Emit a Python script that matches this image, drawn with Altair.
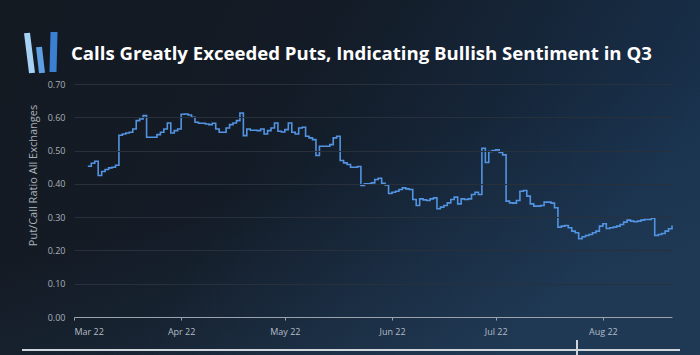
import altair as alt
import pandas as pd

# ---------------- data ----------------
start_date = "2022-03-05"
ratio = [
    0.453, 0.462, 0.468, 0.425, 0.437, 0.443, 0.448, 0.450, 0.456, 0.546,
    0.550, 0.553, 0.555, 0.565, 0.590, 0.595, 0.605, 0.540, 0.540, 0.540,
    0.548, 0.555, 0.565, 0.583, 0.553, 0.560, 0.565, 0.609, 0.610, 0.607,
    0.600, 0.585, 0.582, 0.582, 0.580, 0.578, 0.582, 0.565, 0.555, 0.555,
    0.568, 0.578, 0.583, 0.590, 0.613, 0.545, 0.565, 0.561, 0.561, 0.560,
    0.565, 0.550, 0.560, 0.568, 0.583, 0.558, 0.556, 0.563, 0.583, 0.555,
    0.550, 0.568, 0.570, 0.543, 0.538, 0.533, 0.485, 0.513, 0.513, 0.513,
    0.518, 0.538, 0.543, 0.470, 0.463, 0.458, 0.450, 0.450, 0.452, 0.395,
    0.400, 0.400, 0.403, 0.413, 0.417, 0.402, 0.397, 0.371, 0.375, 0.378,
    0.383, 0.388, 0.385, 0.383, 0.353, 0.335, 0.355, 0.352, 0.350, 0.355,
    0.358, 0.325, 0.330, 0.335, 0.343, 0.353, 0.360, 0.340, 0.355, 0.353,
    0.355, 0.368, 0.375, 0.368, 0.507, 0.464, 0.497, 0.500, 0.502, 0.494,
    0.487, 0.348, 0.343, 0.342, 0.350, 0.378, 0.380, 0.363, 0.340, 0.333,
    0.333, 0.335, 0.345, 0.345, 0.342, 0.328, 0.270, 0.273, 0.275, 0.268,
    0.258, 0.253, 0.235, 0.241, 0.245, 0.248, 0.253, 0.258, 0.273, 0.280,
    0.266, 0.268, 0.270, 0.273, 0.278, 0.285, 0.291, 0.288, 0.286, 0.288,
    0.291, 0.293, 0.293, 0.297, 0.245, 0.248, 0.251, 0.258, 0.265, 0.275,
]
month_ticks = [3, 4, 5, 6, 7, 8]
y_ticks = [0.0, 0.1, 0.2, 0.3, 0.4, 0.5, 0.6, 0.7]
title_text = "Calls Greatly Exceeded Puts, Indicating Bullish Sentiment in Q3"
y_title = "Put/Call Ratio All Exchanges"

dates = pd.date_range(start_date, periods=len(ratio), freq="D")
df = pd.DataFrame({"date": dates.strftime("%Y-%m-%dT00:00:00"), "ratio": ratio})

W, H = 598, 233
PAD = {"left": 74, "top": 84, "right": 28, "bottom": 38}
one = alt.Data(values=[{"k": 1}])

# ---------------- background ----------------
bg = alt.Chart(one).mark_rect(
    color=alt.LinearGradient(
        gradient="linear", x1=0, y1=0, x2=1, y2=0.3,
        stops=[
            alt.GradientStop(color="#141a22", offset=0),
            alt.GradientStop(color="#131b26", offset=0.45),
            alt.GradientStop(color="#18304b", offset=1),
        ],
    )
).encode(x=alt.value(-74), x2=alt.value(626), y=alt.value(-84), y2=alt.value(271))

bg2 = alt.Chart(one).mark_rect(
    color=alt.LinearGradient(
        gradient="linear", x1=0, y1=0, x2=0.6, y2=1,
        stops=[
            alt.GradientStop(color="rgba(40,70,100,0)", offset=0.55),
            alt.GradientStop(color="rgba(45,75,105,0.35)", offset=1),
        ],
    )
).encode(x=alt.value(-74), x2=alt.value(626), y=alt.value(-84), y2=alt.value(271))

# ---------------- title and logo ----------------
title = alt.Chart(one).mark_text(
    text=title_text, align="left", baseline="alphabetic", font="Open Sans",
    fontSize=18.6, fontWeight="bold", color="#ffffff",
).encode(x=alt.value(-3), y=alt.value(-24))

logo = alt.layer(
    alt.Chart(one).mark_rule(color="#a6d3f5", strokeWidth=6).encode(
        x=alt.value(-47), x2=alt.value(-42), y=alt.value(-51), y2=alt.value(-11)),
    alt.Chart(one).mark_rule(color="#5d9fe0", strokeWidth=6).encode(
        x=alt.value(-35), x2=alt.value(-32), y=alt.value(-37), y2=alt.value(-11)),
    alt.Chart(one).mark_rule(color="#3b7fd0", strokeWidth=7).encode(
        x=alt.value(-20), x2=alt.value(-21), y=alt.value(-52), y2=alt.value(-12)),
)

# ---------------- scrubber bar ----------------
bar = alt.layer(
    alt.Chart(one).mark_rule(color="#cfd5db", strokeWidth=2).encode(
        x=alt.value(-52), x2=alt.value(606), y=alt.value(266)),
    alt.Chart(one).mark_rule(color="#cfd5db", strokeWidth=2).encode(
        x=alt.value(503), y=alt.value(256), y2=alt.value(271)),
)

# ---------------- line ----------------
line = alt.Chart(df).mark_line(
    interpolate="step-after", color="#5394e2", strokeWidth=1.6
).encode(
    x=alt.X(
        "date:T",
        scale=alt.Scale(domain=[alt.DateTime(year=2022, month=3, date=1),
                                alt.DateTime(year=2022, month=8, date=21)]),
        axis=alt.Axis(
            values=[alt.DateTime(year=2022, month=m, date=1) for m in month_ticks],
            format="%b %y", title=None, grid=False, zindex=1,
            domainColor="#9aa3ad", tickColor="#9aa3ad", tickSize=3,
            labelColor="#b4bcc5", labelFont="Open Sans", labelFontSize=9,
            labelPadding=7,
        ),
    ),
    y=alt.Y(
        "ratio:Q",
        scale=alt.Scale(domain=[0, 0.7]),
        axis=alt.Axis(
            values=y_ticks, format=".2f", title=y_title, grid=True, zindex=1,
            gridColor="#27303b", gridWidth=1, domain=False, ticks=False,
            labelColor="#a9b1ba", labelFont="Open Sans", labelFontSize=9,
            labelPadding=9, titleColor="#a9b1ba", titleFont="Open Sans",
            titleFontSize=11, titleFontWeight="normal", titleAngle=270,
            titleAlign="center", titleBaseline="middle",
            titleX=-41, titleY=91,
        ),
    ),
)

chart = alt.layer(bg, bg2, title, logo, bar, line).properties(
    width=W, height=H, padding=PAD, autosize="none",
    background="#151b24",
).configure_view(stroke=None)

chart.save("out.html", embed_options={"renderer": "svg", "actions": False})
